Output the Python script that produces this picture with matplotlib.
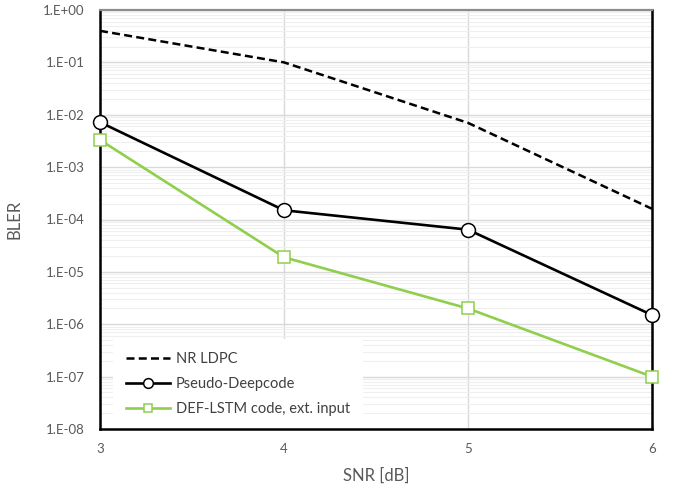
import numpy as np
import matplotlib
matplotlib.use("Agg")
import matplotlib.pyplot as plt
from matplotlib.ticker import FuncFormatter, LogLocator, NullFormatter

plt.rcParams['font.family'] = ['Lato', 'DejaVu Sans']

snr = [3, 4, 5, 6]
nr_ldpc = [4.0e-1, 1.0e-1, 7.0e-3, 1.6e-4]
pseudo_deepcode = [7.2e-3, 1.5e-4, 6.4e-5, 1.5e-6]
def_lstm = [3.3e-3, 1.9e-5, 2.0e-6, 1.0e-7]

series_names = ["NR LDPC", "Pseudo-Deepcode", "DEF-LSTM code, ext. input"]
green = "#8fcf4c"
label_gray = "#595959"

fig = plt.figure(figsize=(6.78, 4.87), dpi=100)
ax = fig.add_axes([100 / 678, 1 - 429 / 487, 552 / 678, 419 / 487])

ax.plot(snr, nr_ldpc, color="black", linestyle=(0, (3.2, 1.7)), linewidth=1.8,
        label=series_names[0], zorder=3)
ax.plot(snr, pseudo_deepcode, color="black", linewidth=1.9, marker="o",
        markersize=10, markerfacecolor="white", markeredgecolor="black",
        markeredgewidth=1.1, label=series_names[1], zorder=4, clip_on=False)
ax.plot(snr, def_lstm, color=green, linewidth=1.9, marker="s",
        markersize=8, markerfacecolor="white", markeredgecolor=green,
        markeredgewidth=1.1, label=series_names[2], zorder=4, clip_on=False)

ax.set_yscale("log")
ax.set_ylim(1e-8, 1e0)
ax.set_xlim(3, 6)
ax.set_xticks(snr)
ax.yaxis.set_major_locator(LogLocator(base=10, numticks=20))
ax.yaxis.set_minor_locator(LogLocator(base=10, subs=np.arange(2, 10), numticks=20))
ax.yaxis.set_minor_formatter(NullFormatter())
ax.yaxis.set_major_formatter(FuncFormatter(
    lambda v, p: "1.E%+03d" % int(round(np.log10(v)))))

ax.grid(True, which="major", axis="both", color="#d9d9d9", linewidth=1.0, zorder=0)
ax.grid(True, which="minor", axis="y", color="#efefef", linewidth=0.8, zorder=0)
ax.set_axisbelow(True)

ax.tick_params(axis="both", which="both", length=0, colors=label_gray, labelsize=9.5)
ax.tick_params(axis="x", pad=10)
ax.tick_params(axis="y", pad=11)

ax.set_xlabel("SNR [dB]", fontsize=12, color=label_gray, labelpad=9)
ax.set_ylabel("BLER", fontsize=12, color=label_gray, labelpad=15)

ax.spines["top"].set_color("#8c8c8c")
ax.spines["top"].set_linewidth(1.6)
for side in ["left", "right", "bottom"]:
    ax.spines[side].set_color("black")
    ax.spines[side].set_linewidth(1.8)

# legend sits just above the bottom axis, under the spines
leg = ax.legend(loc="lower left", bbox_to_anchor=(0.024, 0.0), frameon=True,
                fancybox=False, edgecolor="white", framealpha=1.0,
                fontsize=10.5, handlelength=3.0, borderpad=0.9, labelspacing=0.75,
                handletextpad=0.4, borderaxespad=0.0, markerscale=0.7)
leg.get_frame().set_linewidth(0)
for t in leg.get_texts():
    t.set_color("#404040")
leg.set_zorder(2.4)

fig.savefig("out.png", dpi=100)
